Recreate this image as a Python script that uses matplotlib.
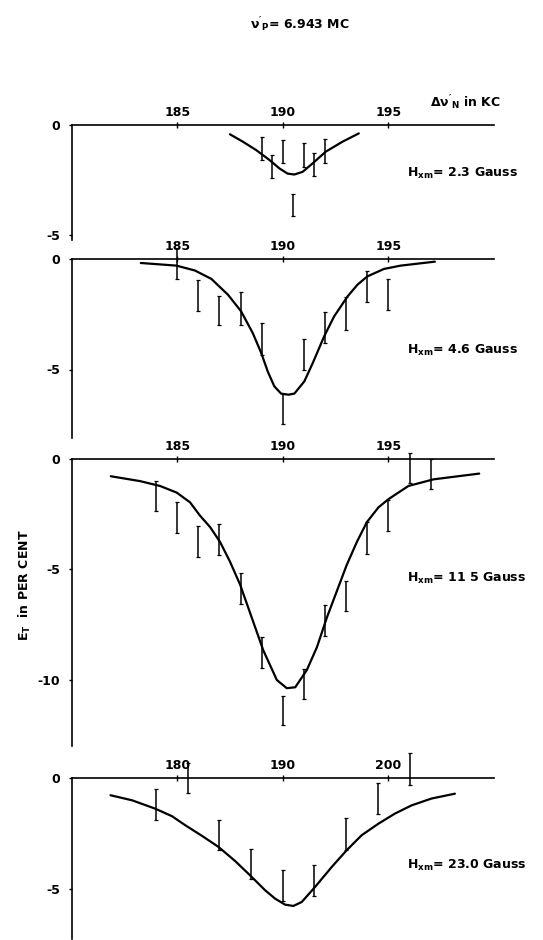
import matplotlib
matplotlib.use("Agg")
import matplotlib.pyplot as plt

# ---- panel 1: H_xm = 2.3 Gauss ----
curve1_x = [187.5, 188.12, 188.75, 189.38, 189.85, 190.23, 190.55, 190.94, 191.41, 192.03, 192.82, 193.6]
curve1_y = [-0.42, -0.76, -1.14, -1.59, -1.97, -2.2, -2.24, -2.12, -1.74, -1.21, -0.76, -0.38]
pts1_x = [189.0, 189.5, 190.0, 190.5, 191.0, 191.5, 192.0]
pts1_y = [-1.06, -1.88, -1.2, -3.6, -1.36, -1.8, -1.17]
err1 = [0.53, 0.52, 0.53, 0.5, 0.53, 0.52, 0.53]

# ---- panel 2: H_xm = 4.6 Gauss ----
curve2_x = [183.28, 184.97, 185.84, 186.62, 187.41, 188.03, 188.58, 188.98, 189.29, 189.6, 189.92,
            190.27, 190.55, 191.02, 191.42, 191.96, 192.43, 193.07, 193.54, 194.0, 194.79, 195.58, 197.2]
curve2_y = [-0.18, -0.3, -0.52, -0.9, -1.62, -2.37, -3.35, -4.25, -5.09, -5.76, -6.09,
            -6.14, -6.09, -5.54, -4.71, -3.5, -2.6, -1.69, -1.16, -0.79, -0.45, -0.3, -0.12]
pts2_x = [185, 186, 187, 188, 189, 190, 191, 192, 193, 194, 195]
pts2_y = [-0.2, -1.67, -2.33, -2.24, -3.63, -6.78, -4.3, -3.1, -2.45, -1.24, -1.61]
err2 = [0.7, 0.7, 0.67, 0.73, 0.73, 0.69, 0.7, 0.72, 0.75, 0.71, 0.71]

# ---- panel 3: H_xm = 11.5 Gauss ----
curve3_x = [181.86, 183.24, 184.19, 184.98, 185.61, 186.08, 186.56, 187.03, 187.5, 187.98, 188.53,
            189.08, 189.72, 190.19, 190.59, 191.14, 191.62, 192.09, 192.56, 193.03, 193.51, 193.98,
            194.53, 195.0, 195.95, 197.14, 199.3]
curve3_y = [-0.78, -1.0, -1.22, -1.52, -1.96, -2.56, -3.08, -3.75, -4.64, -5.68, -7.17,
            -8.66, -10.0, -10.37, -10.33, -9.55, -8.51, -7.17, -5.98, -4.79, -3.75, -2.86,
            -2.19, -1.82, -1.22, -0.92, -0.66]
pts3_x = [184, 185, 186, 187, 188, 189, 190, 191, 192, 193, 194, 195, 196, 197]
pts3_y = [-1.67, -2.63, -3.74, -3.64, -5.87, -8.77, -11.38, -10.18, -7.32, -6.19, -3.57, -2.57, -0.39, -0.69]
err3 = [0.67, 0.7, 0.7, 0.71, 0.71, 0.7, 0.67, 0.7, 0.71, 0.69, 0.74, 0.7, 0.68, 0.68]

# ---- panel 4: H_xm = 23.0 Gauss ----
curve4_x = [173.69, 175.74, 177.94, 179.52, 180.78, 182.36, 183.92, 185.5, 187.07, 188.33, 189.28,
            190.22, 191.0, 191.8, 193.06, 194.63, 196.05, 197.47, 199.05, 200.62, 202.19, 204.08, 206.3]
curve4_y = [-0.78, -1.01, -1.39, -1.73, -2.14, -2.62, -3.12, -3.76, -4.48, -5.08, -5.46,
            -5.73, -5.79, -5.61, -4.93, -4.03, -3.27, -2.59, -2.07, -1.61, -1.24, -0.93, -0.71]
pts4_x = [178, 181, 184, 187, 190, 193, 196, 199, 202]
pts4_y = [-1.21, 0.01, -2.6, -3.88, -4.88, -4.63, -2.52, -0.93, 0.42]
err4 = [0.7, 0.67, 0.68, 0.68, 0.7, 0.71, 0.72, 0.72, 0.72]

panels = [
    dict(cx=curve1_x, cy=curve1_y, px=pts1_x, py=pts1_y, err=err1, xlim=(180, 200),
         xticks=[185, 190, 195], yticks=[0, -5], ymin=-5.2, top=125, label="2.3", ly=173),
    dict(cx=curve2_x, cy=curve2_y, px=pts2_x, py=pts2_y, err=err2, xlim=(180, 200),
         xticks=[185, 190, 195], yticks=[0, -5], ymin=-8.1, top=259, label="4.6", ly=350),
    dict(cx=curve3_x, cy=curve3_y, px=pts3_x, py=pts3_y, err=err3, xlim=(180, 200),
         xticks=[185, 190, 195], yticks=[0, -5, -10], ymin=-13.0, top=459, label="11 5", ly=578),
    dict(cx=curve4_x, cy=curve4_y, px=pts4_x, py=pts4_y, err=err4, xlim=(170, 210),
         xticks=[180, 190, 200], yticks=[0, -5], ymin=-7.3, top=778, label="23.0", ly=865),
]

W, H = 543, 940
PX_PER_UNIT = 22.1
LEFT, RIGHT = 71.5, 494

plt.rcParams.update({"font.family": "DejaVu Sans", "font.weight": "bold",
                     "mathtext.default": "regular"})
fig = plt.figure(figsize=(W / 100, H / 100), dpi=100)

for p in panels:
    h = -p["ymin"] * PX_PER_UNIT
    ax = fig.add_axes([LEFT / W, 1 - (p["top"] + h) / H, (RIGHT - LEFT) / W, h / H])
    ax.plot(p["cx"], p["cy"], color="black", lw=1.6, solid_capstyle="round")
    eb = ax.errorbar(p["px"], p["py"], yerr=p["err"], fmt="none", ecolor="black",
                     elinewidth=1.1, capsize=1.5, capthick=0.9)
    for art in eb.get_children():
        art.set_clip_on(False)
    ax.set_xlim(*p["xlim"])
    ax.set_ylim(p["ymin"], 0)
    ax.set_xticks(p["xticks"])
    ax.set_yticks(p["yticks"])
    ax.set_yticklabels([str(v) for v in p["yticks"]])
    ax.xaxis.tick_top()
    for s in ["bottom", "right"]:
        ax.spines[s].set_visible(False)
    for s in ["top", "left"]:
        ax.spines[s].set_linewidth(1.2)
    ax.tick_params(axis="x", direction="inout", length=4, width=1, pad=2, labelsize=9)
    ax.tick_params(axis="y", direction="out", length=2, width=1, pad=6, labelsize=9)
    ax.set_facecolor("none")
    fig.text(407 / W, 1 - p["ly"] / H, r"$H_{xm}$" + "= " + p["label"] + " Gauss",
             ha="left", va="center", fontsize=9)

fig.text(300 / W, 1 - 25 / H, r"$\nu'_P$= 6.943 MC", ha="center", va="center", fontsize=9)
fig.text(430 / W, 1 - 103 / H, r"$\Delta\nu'_N$ in KC", ha="left", va="center", fontsize=9)
fig.text(25 / W, 1 - 585 / H, r"$E_T$  in PER CENT", ha="center", va="center",
         rotation=90, fontsize=9)

fig.savefig("out.png", dpi=100)
